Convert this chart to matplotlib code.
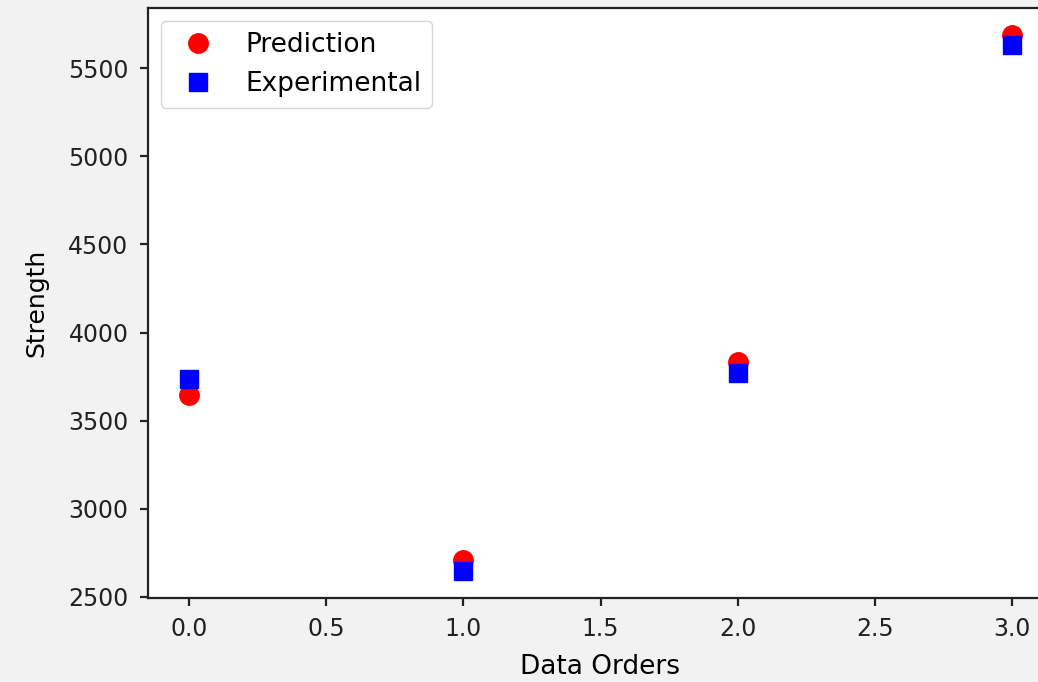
import matplotlib.pyplot as plt

# data
orders = [0, 1, 2, 3]
prediction = [3648, 2710, 3832, 5690]
experimental = [3735, 2645, 3770, 5630]

fig = plt.figure(figsize=(10.38, 6.82), dpi=100, facecolor='#f2f2f2')
ax = fig.add_axes([148 / 1038, 1 - 598 / 682, (1053 - 148) / 1038, (598 - 8) / 682])

ax.plot(orders, prediction, 'ro', markersize=14, label='Prediction')
ax.plot(orders, experimental, 'bs', markersize=13.5, label='Experimental')

ax.set_xlabel("Data Orders", fontsize=19, labelpad=9)
ax.set_ylabel("Strength", fontsize=18, labelpad=14)
for sp in ax.spines.values():
    sp.set_linewidth(1.6)
    sp.set_color('#222222')
ax.tick_params(width=1.6, length=6, pad=8, labelsize=17, colors='#222222')
ax.legend(loc='upper left', fontsize=19, borderaxespad=0.5)

plt.savefig("out.png", dpi=100, facecolor=fig.get_facecolor())
